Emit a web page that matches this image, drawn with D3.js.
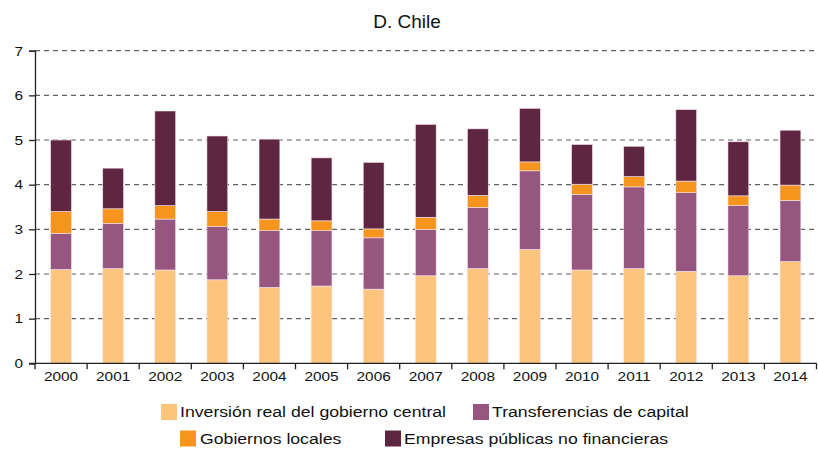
<!DOCTYPE html>
<html>
<head>
<meta charset="utf-8">
<script src="https://cdn.jsdelivr.net/npm/d3@7"></script>
<style>
  html, body { margin: 0; padding: 0; background: #fff; }
  svg { display: block; font-family: "Liberation Sans", Arial, sans-serif; }
</style>
</head>
<body>
<svg id="chart" width="818" height="451"></svg>
<script>
// Public investment by component (% of GDP)
const years = ["2000","2001","2002","2003","2004","2005","2006","2007","2008","2009","2010","2011","2012","2013","2014"];
const inversionCentral = [2.10, 2.12, 2.09, 1.87, 1.70, 1.73, 1.66, 1.96, 2.12, 2.55, 2.09, 2.12, 2.06, 1.96, 2.28];
const transferencias   = [0.81, 1.01, 1.14, 1.19, 1.27, 1.24, 1.15, 1.04, 1.37, 1.76, 1.69, 1.83, 1.76, 1.57, 1.37];
const gobiernosLocales = [0.49, 0.33, 0.30, 0.34, 0.26, 0.22, 0.20, 0.27, 0.27, 0.20, 0.23, 0.23, 0.26, 0.22, 0.34];
const empresasPublicas = [1.60, 0.91, 2.12, 1.69, 1.79, 1.41, 1.49, 2.08, 1.49, 1.20, 0.89, 0.68, 1.60, 1.21, 1.23];
const yTicks = [0, 1, 2, 3, 4, 5, 6, 7];

const seriesNames = ["Inversión real del gobierno central", "Transferencias de capital", "Gobiernos locales", "Empresas públicas no financieras"];
const seriesKeys = ["inv", "tra", "gob", "emp"];
const colors = ["#FDC47D", "#96567F", "#F7941D", "#5F2641"];

const rows = years.map((y, i) => ({
  year: y,
  inv: inversionCentral[i],
  tra: transferencias[i],
  gob: gobiernosLocales[i],
  emp: empresasPublicas[i]
}));

const svg = d3.select("#chart");
const W = 818, H = 451;
const margin = { left: 35, right: 1.5, top: 50.7, bottom: 87.7 };
// labels are set in a slightly wide face: stretch horizontally
const STRETCH = 1.14;

const x = d3.scaleBand().domain(years).range([margin.left, W - margin.right]).paddingInner(0.6).paddingOuter(0.3);
const y = d3.scaleLinear().domain([0, 7]).range([H - margin.bottom, margin.top]);

function wideText(sel, tx, ty, anchor, size, str) {
  return sel.append("text")
    .attr("transform", `translate(${tx},${ty}) scale(${STRETCH},1)`)
    .attr("text-anchor", anchor)
    .attr("font-size", size)
    .attr("fill", "#111")
    .text(str);
}

// Title
svg.append("text")
  .attr("x", 407).attr("y", 27.5)
  .attr("text-anchor", "middle")
  .attr("font-size", 19)
  .attr("fill", "#111")
  .text("D. Chile");

// Dashed gridlines
svg.append("g").selectAll("line")
  .data(yTicks.filter(d => d > 0))
  .join("line")
  .attr("x1", margin.left).attr("x2", W)
  .attr("y1", d => y(d)).attr("y2", d => y(d))
  .attr("stroke", "#606060")
  .attr("stroke-width", 1.2)
  .attr("stroke-dasharray", "5,4");

// Stacked bars
const layers = d3.stack().keys(seriesKeys)(rows);

svg.append("g").selectAll("g")
  .data(layers)
  .join("g")
  .attr("fill", (d, i) => colors[i])
  .selectAll("rect")
  .data(d => d)
  .join("rect")
  .attr("x", d => x(d.data.year))
  .attr("width", x.bandwidth())
  .attr("y", d => y(d[1]))
  .attr("height", d => y(d[0]) - y(d[1]))
  .attr("stroke", "#f4e6ee")
  .attr("stroke-width", 0.6);

// Y axis
const yAxis = d3.axisLeft(y).tickValues(yTicks).tickFormat("").tickSize(6);
const gy = svg.append("g").attr("transform", `translate(${margin.left},0)`).call(yAxis);
gy.select(".domain").attr("stroke", "#222").attr("stroke-width", 1.3);
gy.selectAll(".tick line").attr("stroke", "#222").attr("stroke-width", 1.3);
const yLab = svg.append("g");
yTicks.forEach(t => wideText(yLab, 23, y(t) + 4.8, "end", 13.5, String(t)));

// X axis with ticks between categories
const gx = svg.append("g").attr("transform", `translate(0,${y(0)})`);
gx.append("line")
  .attr("x1", margin.left - 6).attr("x2", W - margin.right)
  .attr("y1", 0).attr("y2", 0)
  .attr("stroke", "#222").attr("stroke-width", 1.3);
const step = x.step();
const boundaries = [margin.left].concat(years.map(d => x(d) + x.bandwidth() / 2 + step / 2));
gx.selectAll("line.sep")
  .data(boundaries)
  .join("line")
  .attr("class", "sep")
  .attr("x1", d => d).attr("x2", d => d)
  .attr("y1", 0).attr("y2", 6)
  .attr("stroke", "#222").attr("stroke-width", 1.3);
years.forEach(yr => wideText(gx, x(yr) + x.bandwidth() / 2, 17.4, "middle", 13.5, yr));

// Legend
const legendItems = [
  { i: 0, sx: 161, sy: 404, tx: 180 },
  { i: 1, sx: 473, sy: 404, tx: 492 },
  { i: 2, sx: 180, sy: 430.5, tx: 200 },
  { i: 3, sx: 385, sy: 430.5, tx: 404 }
];
const lg = svg.append("g");
legendItems.forEach(it => {
  lg.append("rect")
    .attr("x", it.sx).attr("y", it.sy)
    .attr("width", 16).attr("height", 16)
    .attr("fill", colors[it.i]);
  wideText(lg, it.tx, it.sy + 13.3, "start", 15.5, seriesNames[it.i]);
});
</script>
</body>
</html>
